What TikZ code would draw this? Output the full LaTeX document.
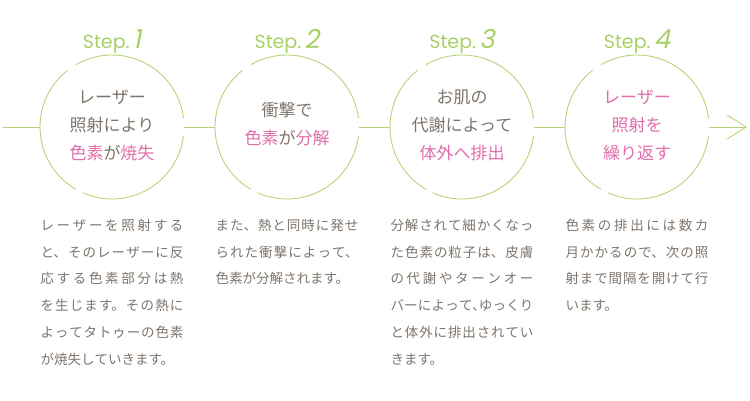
\documentclass[tikz,border=0pt]{standalone}
\usepackage{fontspec}
\setmainfont{Noto Sans CJK JP}
\newfontfamily\stepfont{Poppins}
\newfontfamily\stepnum{Poppins}[FakeSlant=0.2]
\usetikzlibrary{positioning,arrows.meta}
\XeTeXlinebreaklocale "ja"
\XeTeXlinebreakskip=0pt plus 4pt
\definecolor{ringgreen}{RGB}{180,212,122}
\definecolor{stepgreen}{RGB}{168,208,100}
\definecolor{txtgray}{RGB}{125,116,108}
\definecolor{txtpink}{RGB}{224,110,170}
\newcommand{\pk}[1]{\textcolor{txtpink}{#1}}
\newcommand{\stepno}[1]{Step.\,{\stepnum\fontsize{26}{26}\selectfont #1}}
\tikzset{
	ring/.style={circle, minimum size=144pt, inner sep=0pt, outer sep=0pt},
	ringline/.style={draw=ringgreen, line width=0.9pt},
	ringtext/.style={align=center, text=txtgray, font=\fontsize{17}{28}\selectfont},
	steplabel/.style={inner sep=0pt, text=stepgreen, font=\stepfont\fontsize{19}{19}\selectfont},
	desc/.style={anchor=north, inner sep=0pt, text width=143pt, align=justify, text=txtgray, font=\fontsize{13.5}{26.7}\selectfont}
}
\begin{document}
\begin{tikzpicture}[x=1pt, y=-1pt]
	\useasboundingbox (0,0) rectangle (750,400);
	
	%Rings
	\node[ring] (s1) at (112,127) {};
	\node[ring] (s2) at (287,127) {};
	\node[ring] (s3) at (462,127) {};
	\node[ring] (s4) at (637,127) {};
	\foreach \s in {s1,s2,s3,s4}{
		\draw[ringline] (\s.7) arc[start angle=7, end angle=120, radius=72pt];
		\draw[ringline] (\s.128) arc[start angle=128, end angle=240, radius=72pt];
		\draw[ringline] (\s.246) arc[start angle=246, end angle=353, radius=72pt];
	}
	
	%Connectors
	\coordinate (in) at (3,127);
	\coordinate (out) at (747,127);
	\draw[ringline] (in) -- (s1.west);
	\draw[ringline] (s1.east) -- (s2.west);
	\draw[ringline] (s2.east) -- (s3.west);
	\draw[ringline] (s3.east) -- (s4.west);
	\draw[ringline, -{Straight Barb[length=19pt, width=24pt]}] (s4.east) -- (out);
	
	%Step labels
	\node[steplabel, above=1pt of s1] (l1) {\stepno{1}};
	\node[steplabel, above=1pt of s2] (l2) {\stepno{2}};
	\node[steplabel, above=1pt of s3] (l3) {\stepno{3}};
	\node[steplabel, above=1pt of s4] (l4) {\stepno{4}};
	
	%Ring texts
	\node[ringtext] (t1) at ([yshift=2pt]s1.center) {レーザー\\照射により\\\pk{色素}が\pk{焼失}};
	\node[ringtext] (t2) at ([yshift=3pt]s2.center) {衝撃で\\\pk{色素}が\pk{分解}};
	\node[ringtext] (t3) at ([yshift=2pt]s3.center) {お肌の\\代謝によって\\\pk{体外へ排出}};
	\node[ringtext] (t4) at ([yshift=2pt]s4.center) {\pk{レーザー}\\\pk{照射を}\\\pk{繰り返す}};
	
	%Descriptions
	\node[desc, below=20pt of s1] (d1) {レーザーを照射する\linebreak
		と、そのレーザーに反\linebreak
		応する色素部分は熱\linebreak
		を生じます。その熱に\linebreak
		よってタトゥーの色素\linebreak
		が焼失していきます。};
	\node[desc, below=20pt of s2] (d2) {また、熱と同時に発せ\linebreak
		られた衝撃によって、\linebreak
		色素が分解されます。};
	\node[desc, below=20pt of s3] (d3) {分解されて細かくなっ\linebreak
		た色素の粒子は、皮膚\linebreak
		の代謝やターンオー\linebreak
		バーによって{、}\kern-6.75pt ゆっくり\linebreak
		と体外に排出されてい\linebreak
		きます。};
	\node[desc, below=20pt of s4] (d4) {色素の排出には数カ\linebreak
		月かかるので、次の照\linebreak
		射まで間隔を開けて行\linebreak
		います。};
\end{tikzpicture}
\end{document}
